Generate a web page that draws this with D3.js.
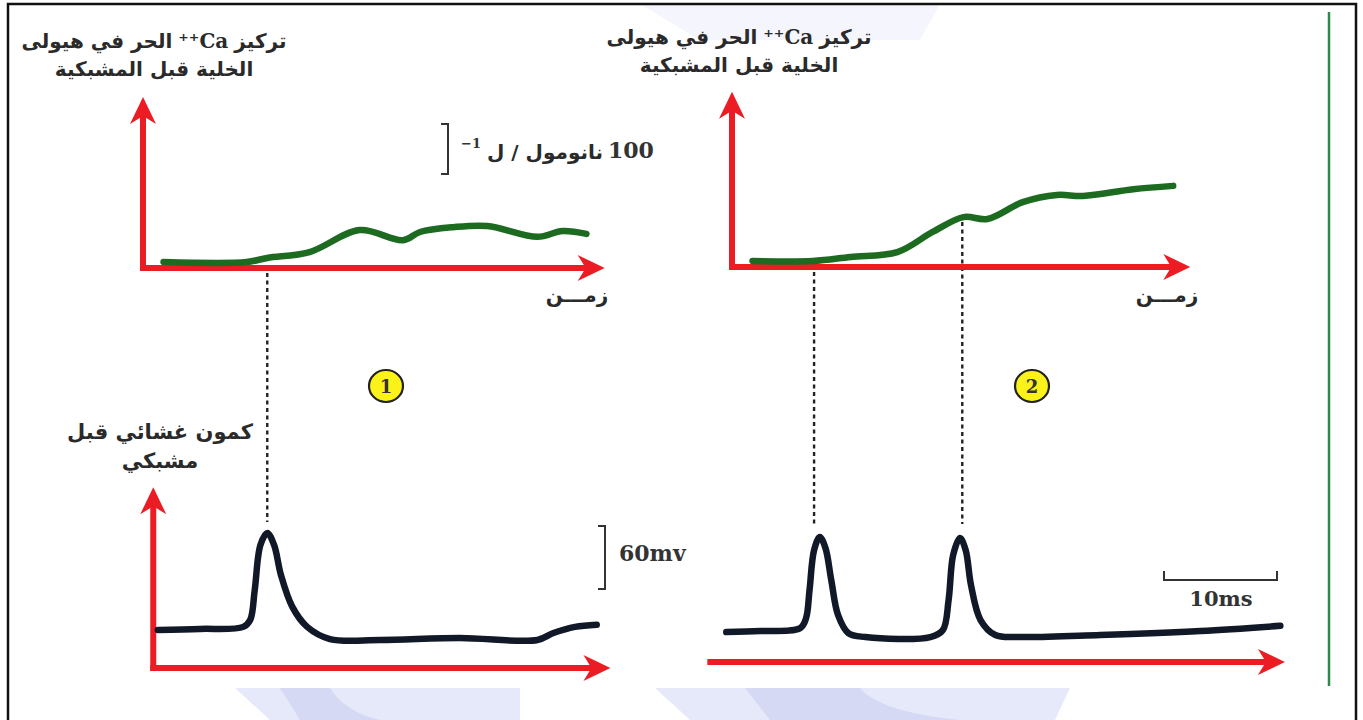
<!DOCTYPE html>
<html>
<head>
<meta charset="utf-8">
<script src="https://cdn.jsdelivr.net/npm/d3@7"></script>
<style>
  body { margin: 0; background: #fff; }
  svg { display: block; }
  .ar { font-family: "DejaVu Sans", sans-serif; font-weight: bold; fill: #2a2a2a; }
  .num { font-family: "DejaVu Serif", serif; font-weight: bold; fill: #333; }
</style>
</head>
<body>
<script>
// Ca++ concentration (nM above axis) over time (ms), panel 1 and panel 2
const caTime1 = [1.8, 9.1, 10.9, 14.6, 19.0, 22.8, 24.3, 27.2, 30.2, 34.6, 36.8, 38.9]
const caConc1 = [12.5, 12.5, 21, 33, 79, 58, 75, 85, 87.5, 65, 77, 71]
const caTime2 = [1.8, 7.1, 10.4, 14.5, 17.6, 20.3, 22.4, 25.5, 28.5, 30.8, 35.2, 38.7]
const caConc2 = [12.5, 12.5, 21, 31, 73, 104, 100, 135, 150, 148, 162, 169]

// presynaptic membrane potential (mV) over time (ms)
const vTime1 = [1.3, 5.0, 8.8, 9.4, 9.8, 10.3, 10.9, 11.5, 12.1, 13.1, 14.4, 16.4, 20.8, 27.8, 34.6, 36.0, 37.9, 39.8]
const vVolt1 = [-70, -69, -67, -60.5, -32, 11, 22.4, 11, -17.6, -48, -67, -78.6, -79.5, -77.6, -79.5, -72.9, -67, -65]
const vTime2 = [-0.5, 2.5, 6.0, 6.5, 6.8, 7.2, 7.7, 8.2, 8.7, 9.3, 10.2, 11.7, 17.4, 18.5, 19.0, 19.4, 20.0, 20.5, 20.96, 21.8, 23.1, 25.3, 32.3, 41.1, 48.1]
const vVolt2 = [-72, -71, -68, -58.6, -32, 6, 18.6, 8, -22, -55.7, -72.9, -76.7, -76.7, -70, -41.4, 1.4, 17.6, 6, -27, -60.5, -74.8, -76.7, -74.8, -71, -66]

// action potential peaks linked to Ca curves (ms)
const spikes1 = [10.9]
const spikes2 = [7.2, 20.2]

// axis extents
const caAxisEnd1 = [40.5, 356]
const caAxisEnd2 = [40.2, 365]
const vAxis1 = [0.9, 41.0]
const vAxis2 = [-1.9, 48.5]

// first label line in visual pieces, right to left
const labelCaLine1 = ["تركيز", "⁺⁺Ca", "الحر في هيولى"]
const labelCaLine2 = "الخلية قبل المشبكية"
const labelV = ["كمون غشائي قبل", "مشبكي"]
const labelTime = "زمـــن"

const W = 1363, H = 720
const red = "#ec1c24"

const svg = d3.select("body").append("svg")
  .attr("width", W).attr("height", H)

// faint watermark shapes
const wm = svg.append("g")
wm.append("path").attr("d", "M640,4 L940,4 L920,40 L700,40 Z").attr("fill", "#f4f5fd")
wm.append("path").attr("d", "M235,688 L520,688 L520,720 L270,720 Z").attr("fill", "#e6e9fa")
wm.append("path").attr("d", "M280,688 L330,688 Q345,712 380,720 L300,720 Z").attr("fill", "#d6d9f3")
wm.append("path").attr("d", "M655,688 L1070,688 L1055,720 L690,720 Z").attr("fill", "#e6e9fa")
wm.append("path").attr("d", "M745,688 L860,688 Q880,712 960,720 L770,720 Z").attr("fill", "#d6d9f3")

// frame
svg.append("path")
  .attr("d", `M8,${H} L8,4 L1356,4 L1356,${H}`)
  .attr("fill", "none").attr("stroke", "#111").attr("stroke-width", 2.5)
svg.append("line")
  .attr("x1", 1329).attr("x2", 1329).attr("y1", 12).attr("y2", 686)
  .attr("stroke", "#2f8a4a").attr("stroke-width", 2.5)

// scales
const x1 = d3.scaleLinear().domain([0, 10]).range([143, 257])
const x2 = d3.scaleLinear().domain([0, 10]).range([732, 846])
const yCa1 = d3.scaleLinear().domain([0, 100]).range([268, 220])
const yCa2 = d3.scaleLinear().domain([0, 100]).range([267, 219])
const yV1 = d3.scaleLinear().domain([-70, -10]).range([630, 567])
const yV2 = d3.scaleLinear().domain([-70, -10]).range([630, 567])

function arrowHead(x, y, dir) {
  // dir: "up" or "right"
  const p = dir === "up"
    ? [[x, y], [x - 13, y + 27], [x, y + 19], [x + 13, y + 27]]
    : [[x, y], [x - 27, y - 13], [x - 19, y], [x - 27, y + 13]]
  svg.append("path").attr("d", d3.line()(p) + "Z").attr("fill", red)
}

function axes(x, y, t0, t1, v0, vTop, showY) {
  const ox = x(t0), oy = y(v0)
  if (showY) {
    svg.append("line").attr("x1", ox).attr("x2", ox).attr("y1", oy + 3).attr("y2", y(vTop) + 18)
      .attr("stroke", red).attr("stroke-width", 6)
    arrowHead(ox, y(vTop), "up")
  }
  svg.append("line").attr("x1", ox - 3).attr("x2", x(t1) - 18).attr("y1", oy).attr("y2", oy)
    .attr("stroke", red).attr("stroke-width", 6)
  arrowHead(x(t1), oy, "right")
}

const smooth = d3.curveCatmullRom.alpha(0.5)

function trace(x, y, ts, vs, color) {
  const line = d3.line().x(d => x(d[0])).y(d => y(d[1])).curve(smooth)
  svg.append("path").datum(d3.zip(ts, vs))
    .attr("d", line).attr("fill", "none")
    .attr("stroke", color).attr("stroke-width", 6.5)
    .attr("stroke-linecap", "round").attr("stroke-linejoin", "round")
}

// dashed links (drawn first so traces sit on top)
function dashes(x, ts, yTop, yBot) {
  ts.forEach((t, i) => {
    svg.append("line").attr("x1", x(t)).attr("x2", x(t))
      .attr("y1", yTop[i]).attr("y2", yBot)
      .attr("stroke", "#222").attr("stroke-width", 2.4).attr("stroke-dasharray", "4,3.5")
  })
}
dashes(x1, spikes1, [273], 522)
dashes(x2, spikes2, [272, 222], 524)

// top panels: Ca++
axes(x1, yCa1, 0, caAxisEnd1[0], 0, caAxisEnd1[1], true)
axes(x2, yCa2, 0, caAxisEnd2[0], 0, caAxisEnd2[1], true)
trace(x1, yCa1, caTime1, caConc1, "#1d6b21")
trace(x2, yCa2, caTime2, caConc2, "#1d6b21")

// bottom panels: membrane potential
axes(x1, yV1, vAxis1[0], vAxis1[1], -106.2, 66, true)
axes(x2, yV2, vAxis2[0], vAxis2[1], -100.5, 0, false)
trace(x1, yV1, vTime1, vVolt1, "#111827")
trace(x2, yV2, vTime2, vVolt2, "#111827")

// labels
function arText(x, y, s, size, anchor) {
  return svg.append("text").attr("class", "ar")
    .attr("x", x).attr("y", y).attr("direction", "rtl")
    .attr("text-anchor", anchor || "middle").attr("font-size", size).text(s)
}

// Ca label: pieces laid right-to-left, centred on cx
function caLabel(cx, y) {
  const gap = 6
  const pieces = labelCaLine1.map((s, i) => {
    const t = svg.append("text").attr("font-size", 20).attr("y", y).text(s)
    if (i === 1) {
      t.attr("class", "ar").style("font-family", "'DejaVu Serif', serif").attr("direction", "ltr")
    } else {
      t.attr("class", "ar").attr("direction", "rtl")
    }
    t.attr("text-anchor", "start")
    return { t, w: t.node().getComputedTextLength() }
  })
  const total = d3.sum(pieces, p => p.w) + gap * (pieces.length - 1)
  let right = cx + total / 2
  pieces.forEach((p, i) => {
    // in rtl, "start" is the right edge; in ltr it's the left edge
    if (i === 1) p.t.attr("x", right - p.w)
    else p.t.attr("x", right)
    right -= p.w + gap
  })
  arText(cx, y + 28, labelCaLine2, 20)
}
caLabel(154, 48)
caLabel(739, 44)

labelV.forEach((s, i) => arText(160, 439 + i * 29, s, 21))
arText(577, 302, labelTime, 20)
arText(1167, 302, labelTime, 20)

// scale bars
function bracket(x, y0, y1) {
  svg.append("path").attr("d", `M${x - 7},${y0} L${x},${y0} L${x},${y1} L${x - 7},${y1}`)
    .attr("fill", "none").attr("stroke", "#333").attr("stroke-width", 2)
}
bracket(448, 124, 174)
arText(545, 159, "نانومول / ل", 20)
svg.append("text").attr("class", "num").attr("x", 608).attr("y", 158)
  .attr("font-size", 22).text("100")
svg.append("text").attr("class", "num").attr("x", 461).attr("y", 148)
  .attr("font-size", 13).text("−1")

bracket(605, 526, 589)
svg.append("text").attr("class", "num").attr("x", 619).attr("y", 561)
  .attr("font-size", 22).text("60mv")

svg.append("path").attr("d", "M1164,571 L1164,580 L1277,580 L1277,571")
  .attr("fill", "none").attr("stroke", "#333").attr("stroke-width", 2)
svg.append("text").attr("class", "num").attr("x", 1221).attr("y", 606)
  .attr("text-anchor", "middle").attr("font-size", 21).text("10ms")

// numbered markers
const markers = [{ n: "1", x: 386 }, { n: "2", x: 1032 }]
const mk = svg.selectAll("g.mk").data(markers).enter().append("g")
  .attr("transform", d => `translate(${d.x},386)`)
mk.append("ellipse").attr("rx", 17).attr("ry", 16)
  .attr("fill", "#fbf21a").attr("stroke", "#222").attr("stroke-width", 2.2)
mk.append("text").attr("class", "num").attr("text-anchor", "middle").attr("y", 7)
  .attr("font-size", 18).text(d => d.n)
</script>
</body>
</html>
